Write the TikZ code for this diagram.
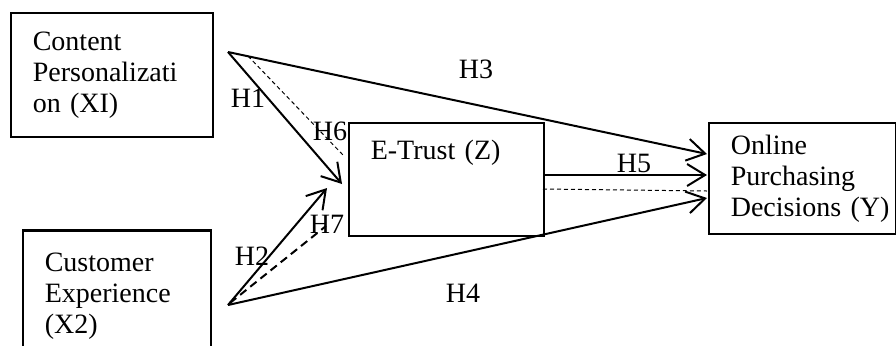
\documentclass[tikz,border=0pt]{standalone}
\usepackage{fontspec}
\setmainfont{Liberation Serif}
\usetikzlibrary{arrows.meta,positioning,calc}
\tikzset{
  varbox/.style={
    draw=black, line width=0.8pt, rectangle, anchor=north west,
    align=left, inner xsep=11pt, inner ysep=0pt,
    font=\fontsize{14}{15.5}\selectfont
  },
  patharrow/.style={
    draw=black, line width=1pt,
    -{Straight Barb[length=9pt,width=11pt,line width=1pt]}
  },
  mediline/.style={draw=black, line width=0.5pt, dash pattern=on 2pt off 1.5pt},
  medilinethick/.style={draw=black, line width=1pt, dash pattern=on 4pt off 2.5pt},
  hlabel/.style={inner sep=0pt, font=\fontsize{14}{15.5}\selectfont}
}

\begin{document}
\begin{tikzpicture}[x=0.5pt,y=-0.5pt]
\clip (0,0) rectangle (896,345);

% variables
\node[varbox, text width=79pt, minimum width=101pt, minimum height=62pt] (xi) at (10,12)
  {Content\\Personalizati\\on~(XI)};
\node[varbox, text width=72pt, minimum width=94pt, minimum height=65pt] (xtwo) at (22,230)
  {Customer\\Experience\\(X2)};
\draw[line width=1.5pt] (xtwo.north west) -- (xtwo.north east);
\node[varbox, text width=75.5pt, minimum width=97.5pt, minimum height=56.5pt,
  text height=10pt, text depth=29.5pt] (z) at (348,122) {E-Trust~(Z)};
\node[varbox, text width=71.5pt, minimum width=93.5pt, minimum height=55.5pt] (y) at (708,122)
  {Online\\Purchasing\\Decisions~(Y)};

% arrow ends
\coordinate (xiout) at (228,52);
\coordinate (xtwoout) at (228,305);
\coordinate (hone) at (342,184);
\coordinate (htwo) at (327,188);
\coordinate (hsixa) at (248,56);
\coordinate (hsixb) at (343,155);
\coordinate (hsevena) at (230,303);
\coordinate (hsevenb) at (326,226);
\coordinate (hthree) at (707,154);
\coordinate (hfour) at (707,198);
\coordinate (zout) at (543,175);
\coordinate (hfive) at (707,175);
\coordinate (zmed) at (543,189);
\coordinate (ymed) at (707,191);

% paths
\draw[patharrow] (xiout) -- (hone);
\draw[patharrow] (xiout) -- (hthree);
\draw[patharrow] (xtwoout) -- (htwo);
\draw[patharrow] (xtwoout) -- (hfour);
\draw[patharrow] (zout) -- (hfive);
\draw[mediline] (hsixa) -- (hsixb);
\draw[medilinethick] (hsevena) -- (hsevenb);
\draw[mediline] (zmed) -- (ymed);

% hypothesis labels
\node[hlabel] (lhone) at (248,98) {H1};
\node[hlabel] (lhtwo) at (252,256) {H2};
\node[hlabel] (lhthree) at (476,69) {H3};
\node[hlabel] (lhfour) at (463,293) {H4};
\node[hlabel] (lhfive) at (634,163) {H5};
\node[hlabel] (lhsix) at (330,131) {H6};
\node[hlabel] (lhseven) at (327,224) {H7};
\end{tikzpicture}
\end{document}
